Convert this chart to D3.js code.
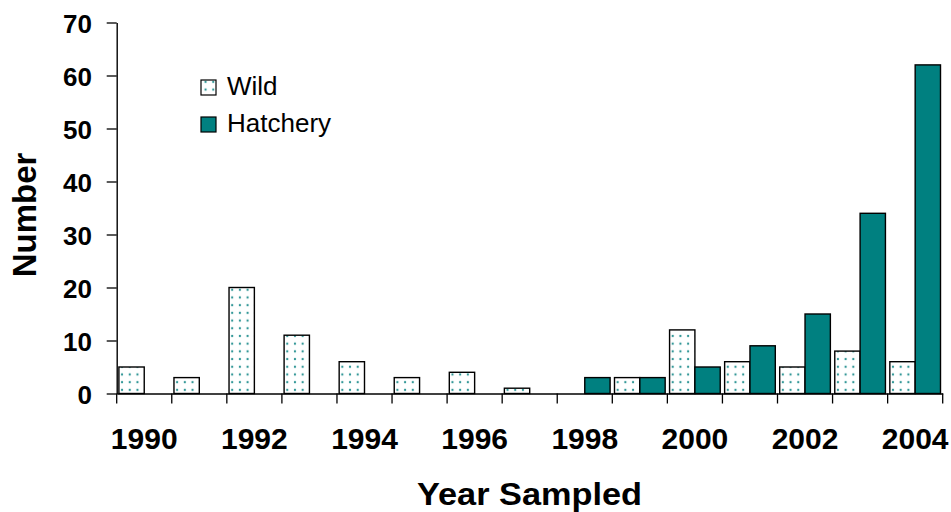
<!DOCTYPE html>
<html>
<head>
<meta charset="utf-8">
<script src="https://cdn.jsdelivr.net/npm/d3@7"></script>
<style>
  html, body { margin: 0; padding: 0; background: #fff; }
  svg { display: block; font-family: "Liberation Sans", Arial, sans-serif; }
</style>
</head>
<body>
<svg id="chart" width="951" height="512"></svg>
<script>
const years = [1990,1991,1992,1993,1994,1995,1996,1997,1998,1999,2000,2001,2002,2003,2004];
const wild =     [5, 3, 20, 11, 6, 3, 4, 1, 0, 3, 12, 6, 5, 8, 6];
const hatchery = [0, 0, 0, 0, 0, 0, 0, 0, 3, 3, 5, 9, 15, 34, 62];
const seriesNames = ["Wild", "Hatchery"];
const yTicks = [0, 10, 20, 30, 40, 50, 60, 70];
const xLabelYears = [1990, 1992, 1994, 1996, 1998, 2000, 2002, 2004];

const teal = "#008080";
const dotColor = "#2f9696";

const svg = d3.select("#chart");

// pattern for wild bars
const defs = svg.append("defs");
const pat = defs.append("pattern")
  .attr("id", "dots").attr("patternUnits", "userSpaceOnUse")
  .attr("width", 7.7).attr("height", 7.7).attr("x", 1.5).attr("y", 1);
pat.append("rect").attr("width", 7.7).attr("height", 7.7).attr("fill", "#fff");
pat.append("circle").attr("cx", 3.85).attr("cy", 3.85).attr("r", 1.15).attr("fill", dotColor);

const x0 = d3.scaleBand().domain(years).range([116.7, 942.7]).padding(0);
const x1 = d3.scaleBand().domain(seriesNames).range([2.2, x0.bandwidth() - 2.2]).padding(0);
const y = d3.scaleLinear().domain([0, 70]).range([393.5, 22.5]);

const data = years.map((yr, i) => ({year: yr, values: [
  {key: "Wild", value: wild[i]},
  {key: "Hatchery", value: hatchery[i]}
]}));

// bars
const groups = svg.append("g").selectAll("g").data(data).join("g")
  .attr("transform", d => `translate(${x0(d.year)},0)`);
groups.selectAll("rect").data(d => d.values.filter(v => v.value > 0)).join("rect")
  .attr("x", d => x1(d.key))
  .attr("width", x1.bandwidth())
  .attr("y", d => y(d.value))
  .attr("height", d => y(0) - y(d.value))
  .attr("fill", d => d.key === "Wild" ? "url(#dots)" : teal)
  .attr("stroke", "#000")
  .attr("stroke-width", 1.4);

// y axis
const yAxis = svg.append("g").attr("transform", `translate(${x0.range()[0]},0)`)
  .call(d3.axisLeft(y).tickValues(yTicks).tickSize(10).tickPadding(14.7).tickSizeOuter(0));
yAxis.select(".domain").attr("stroke", "#000").attr("stroke-width", 1.4);
yAxis.selectAll(".tick line").attr("stroke", "#000").attr("stroke-width", 1.3);
yAxis.selectAll(".tick text")
  .attr("font-family", "'Liberation Sans', Arial, sans-serif")
  .attr("font-size", 26).attr("font-weight", "bold").attr("fill", "#000")
  .attr("dy", "0.4em");

// x axis (labels at band centers, only even years)
const xAxis = svg.append("g").attr("transform", `translate(0,${y(0)})`)
  .call(d3.axisBottom(x0).tickSize(0).tickPadding(34.5)
    .tickFormat(d => xLabelYears.includes(d) ? String(d) : ""));
xAxis.select(".domain").attr("stroke", "#000").attr("stroke-width", 1.4);
xAxis.selectAll(".tick text")
  .attr("font-family", "'Liberation Sans', Arial, sans-serif")
  .attr("font-size", 30).attr("font-weight", "bold").attr("fill", "#000");

// boundary ticks on x axis
const bounds = years.map(yr => x0(yr)).concat([x0.range()[1]]);
svg.append("g").selectAll("line").data(bounds).join("line")
  .attr("x1", d => d).attr("x2", d => d)
  .attr("y1", y(0)).attr("y2", y(0) + 10)
  .attr("stroke", "#000").attr("stroke-width", 1.3);

// axis titles
svg.append("text")
  .attr("transform", "translate(36,215) rotate(-90)")
  .attr("text-anchor", "middle")
  .attr("font-size", 33).attr("font-weight", "bold")
  .text("Number");

svg.append("text")
  .attr("x", 529.5).attr("y", 505)
  .attr("text-anchor", "middle")
  .attr("font-size", 32).attr("font-weight", "bold")
  .attr("textLength", 225).attr("lengthAdjust", "spacingAndGlyphs")
  .text("Year Sampled");

// legend
const legend = svg.append("g");
const legendItems = [
  {name: "Wild", fill: "url(#dots)", y: 80},
  {name: "Hatchery", fill: teal, y: 117}
];
legend.selectAll("rect").data(legendItems).join("rect")
  .attr("x", 201).attr("y", d => d.y).attr("width", 15).attr("height", 15)
  .attr("fill", d => d.fill).attr("stroke", "#000").attr("stroke-width", 1.2);
legend.selectAll("text").data(legendItems).join("text")
  .attr("x", 227).attr("y", d => d.y + 15)
  .attr("font-size", 26).attr("fill", "#000")
  .text(d => d.name);
</script>
</body>
</html>
